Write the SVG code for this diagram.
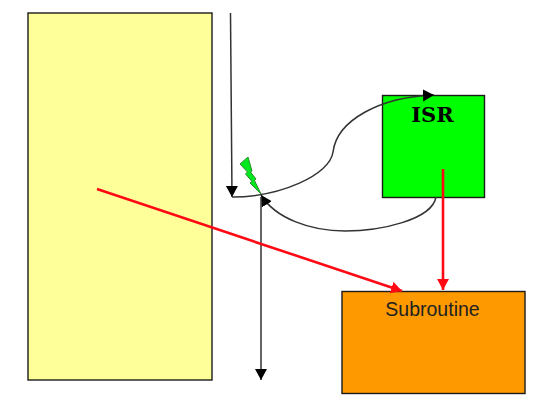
<svg xmlns="http://www.w3.org/2000/svg" width="540" height="410" viewBox="0 0 540 410">
<style>
.box{stroke:#1a1a1a;stroke-width:1.4}
.k{fill:none;stroke:#333;stroke-width:1.5}
.r{fill:none;stroke:#ff0a14;stroke-width:2.6}
</style>
<defs>
<marker id="ah" markerUnits="userSpaceOnUse" markerWidth="14" markerHeight="14" refX="11" refY="6" orient="auto"><path d="M0 0L11 6L0 12Z" fill="#000"/></marker>
<marker id="ar" markerUnits="userSpaceOnUse" markerWidth="14" markerHeight="14" refX="11" refY="6" orient="auto"><path d="M0 0L11 6L0 12Z" fill="#ff0a14"/></marker>
</defs>
<rect width="540" height="410" fill="#fff"/>
<g id="main"><rect class="box" x="28" y="13" width="184" height="367" fill="#ffff99"/></g>
<g id="isr"><rect class="box" x="382.500" y="95.500" width="102" height="102" fill="#00ff00"/><text x="432.500" y="122" font-family="'DejaVu Serif',serif" font-weight="bold" font-size="21" text-anchor="middle" fill="#000">ISR</text></g>
<g id="subroutine"><rect class="box" x="342" y="291.500" width="183" height="102" fill="#ff9900"/><text x="432.500" y="316" font-family="'Liberation Sans',sans-serif" font-size="19.500" text-anchor="middle" fill="#222">Subroutine</text></g>
<g id="interrupt"><path d="M240 164L248 157L252 171L250.500 172L256 179L254.500 180.500L261 194L250 183L252 181.500L245.500 174L247.500 172Z" fill="#00e81e" stroke="#2a8a2a" stroke-width="1"/></g>
<g id="connectors">
<path class="k" d="M230.500 13L232 197" marker-end="url(#ah)"/>
<path class="k" d="M232 197C280 197 330 175 333 152C337 120 380 97 434 95" marker-end="url(#ah)"/>
<path class="k" d="M436 197C432 220 380 231 345 231C310 231 275 218 261 195" marker-end="url(#ah)"/>
<path class="k" d="M261 197V380" marker-end="url(#ah)"/>
<path class="r" d="M97 189L402 291" marker-end="url(#ar)"/>
<path class="r" d="M443 169V290" marker-end="url(#ar)"/>
</g>
</svg>
